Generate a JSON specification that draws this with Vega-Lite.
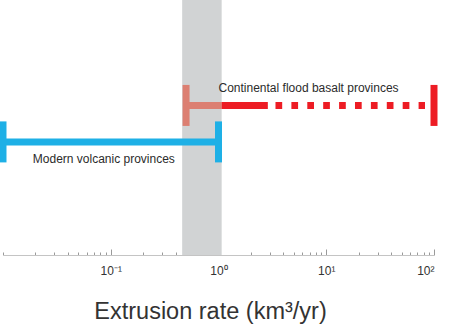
{
  "$schema": "https://vega.github.io/schema/vega-lite/v6.json",
  "width": 431,
  "height": 255,
  "autosize": "none",
  "padding": {"left": 3, "top": 0, "right": 16, "bottom": 80},
  "background": "white",
  "config": {"view": {"stroke": null}, "font": "Liberation Sans"},
  "datasets": {
    "band": [{"lo": 0.46, "hi": 1.07}],
    "lines": [
      {"seg": "modern", "from": 0.01, "to": 1.0, "row": 0},
      {"seg": "early", "from": 0.5, "to": 1.07, "row": 1},
      {"seg": "main", "from": 1.07, "to": 2.87, "row": 1}
    ],
    "dotted": [
      {"seg": "main", "from": 3.38, "to": 82.5, "row": 1}
    ],
    "caps": [
      {"seg": "modern", "at": 0.01, "row": 0},
      {"seg": "modern", "at": 1.0, "row": 0},
      {"seg": "early", "at": 0.5, "row": 1},
      {"seg": "main", "at": 100, "row": 1}
    ],
    "labels": [
      {"text": "Continental flood basalt provinces", "at": 1.0, "row": 1.48},
      {"text": "Modern volcanic provinces", "at": 0.0189, "row": -0.47}
    ]
  },
  "layer": [
    {
      "data": {"name": "band"},
      "mark": {"type": "rect", "color": "#d1d3d4"},
      "encoding": {
        "x": {
          "field": "lo", "type": "quantitative",
          "scale": {"type": "log", "domain": [0.01, 100], "nice": false},
          "axis": {
            "values": [0.01, 0.02, 0.03, 0.04, 0.05, 0.06, 0.07, 0.08, 0.09, 0.1, 0.2, 0.3, 0.4, 0.5, 0.6, 0.7, 0.8, 0.9, 1, 2, 3, 4, 5, 6, 7, 8, 9, 10, 20, 30, 40, 50, 60, 70, 80, 90, 100],
            "labelExpr": "datum.value == 0.1 ? '10⁻¹' : datum.value == 1 ? '10⁰' : datum.value == 10 ? '10¹' : datum.value == 100 ? '10²' : ''",
            "labelOverlap": false,
            "labelFontSize": 12,
            "labelColor": "#333333",
            "labelPadding": 16,
            "tickSize": {"condition": {"test": "datum.value == 0.1 || datum.value == 1 || datum.value == 10 || datum.value == 100", "value": -6}, "value": -3},
            "tickColor": "#9a9a9a",
            "domainColor": "#c4c4c4",
            "grid": false,
            "title": "Extrusion rate (km³/yr)",
            "titleFontSize": 23.5,
            "titleFontWeight": "normal",
            "titleColor": "#333333",
            "titleX": 207,
            "titleAlign": "center",
            "titlePadding": 20
          }
        },
        "x2": {"field": "hi"}
      }
    },
    {
      "data": {"name": "lines"},
      "mark": {"type": "rule", "strokeWidth": 7, "strokeCap": "butt"},
      "encoding": {
        "x": {"field": "from", "type": "quantitative"},
        "x2": {"field": "to"},
        "y": {"field": "row", "type": "quantitative", "scale": {"domain": [-3.1, 3.89], "nice": false, "zero": false}, "axis": null},
        "color": {"field": "seg", "type": "nominal", "scale": {"domain": ["modern", "early", "main"], "range": ["#1eb0e6", "#dc7f72", "#ed1c24"]}, "legend": null}
      }
    },
    {
      "data": {"name": "dotted"},
      "mark": {"type": "rule", "strokeWidth": 7, "strokeCap": "butt", "strokeDash": [6.7, 9.2]},
      "encoding": {
        "x": {"field": "from", "type": "quantitative"},
        "x2": {"field": "to"},
        "y": {"field": "row", "type": "quantitative"},
        "color": {"field": "seg", "type": "nominal", "legend": null}
      }
    },
    {
      "data": {"name": "caps"},
      "mark": {"type": "tick", "orient": "vertical", "size": 41, "thickness": 7, "opacity": 1},
      "encoding": {
        "x": {"field": "at", "type": "quantitative"},
        "y": {"field": "row", "type": "quantitative"},
        "color": {"field": "seg", "type": "nominal", "legend": null}
      }
    },
    {
      "data": {"name": "labels"},
      "mark": {"type": "text", "align": "left", "baseline": "middle", "fontSize": 12, "color": "#2b2b2b"},
      "encoding": {
        "x": {"field": "at", "type": "quantitative"},
        "y": {"field": "row", "type": "quantitative"},
        "text": {"field": "text"}
      }
    }
  ]
}
